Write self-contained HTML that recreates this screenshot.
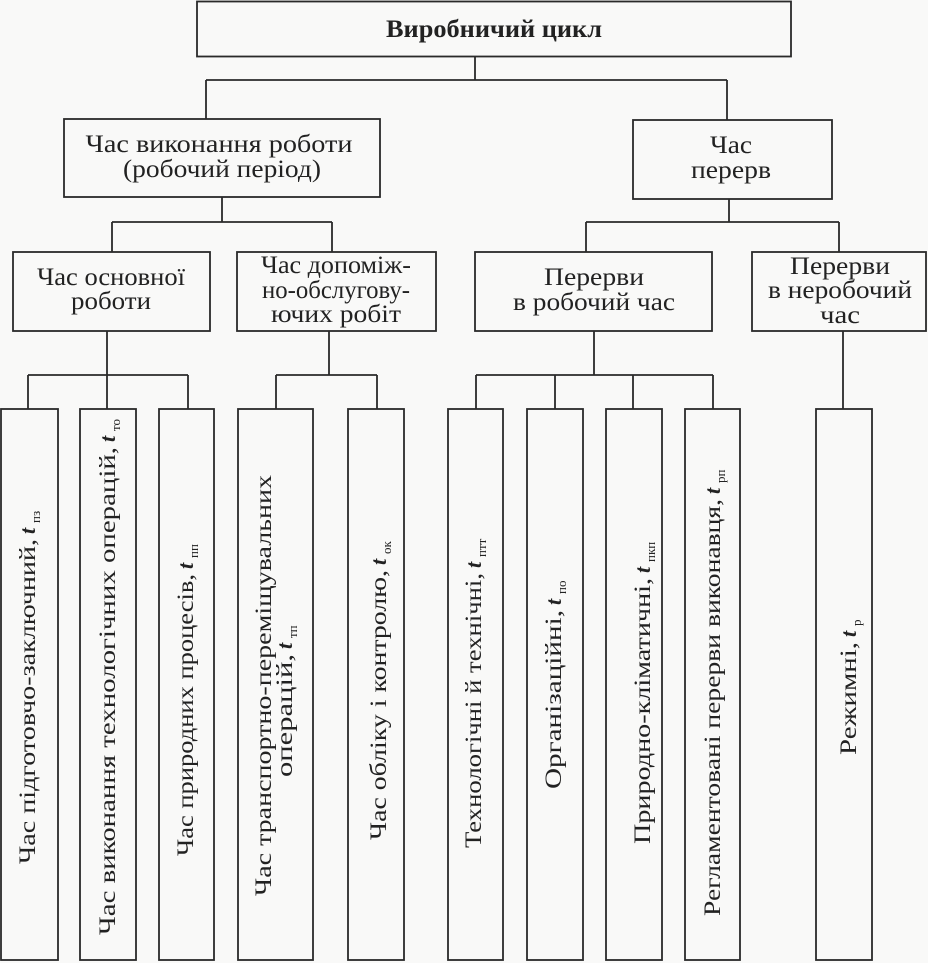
<!DOCTYPE html>
<html><head><meta charset="utf-8"><style>
html,body{margin:0;padding:0;background:#f9f9f8;}
svg{display:block}
text{font-family:"Liberation Serif","DejaVu Serif",serif;fill:#222;}
.h{font-size:25px;}
.v{font-size:23px;}
.t{font-size:22px;font-style:italic;font-weight:bold;}
.s{font-size:13px;}
</style></head><body>
<svg width="928" height="963" viewBox="0 0 928 963" xmlns="http://www.w3.org/2000/svg">
<g fill="none" stroke="#2a2a2a" stroke-width="1.8">
<rect x="197" y="1.5" width="594" height="55"/>
<rect x="64" y="119" width="316" height="78"/>
<rect x="633" y="120" width="199" height="79"/>
<rect x="13" y="252" width="197" height="79"/>
<rect x="237" y="252" width="199" height="79"/>
<rect x="475" y="252" width="237" height="79"/>
<rect x="752" y="252" width="174" height="79"/>
<rect x="1" y="409" width="57" height="551"/>
<rect x="80" y="409" width="56" height="551"/>
<rect x="159" y="409" width="55" height="551"/>
<rect x="238" y="409" width="75" height="551"/>
<rect x="348" y="409" width="56" height="551"/>
<rect x="448" y="409" width="55" height="551"/>
<rect x="527" y="409" width="56" height="551"/>
<rect x="606" y="409" width="56" height="551"/>
<rect x="685" y="409" width="55" height="551"/>
<rect x="816" y="409" width="56" height="551"/>
<path d="M475 57V80M206 80H727M206 80V119M727 80V120"/>
<path d="M222 197V222M112 222H332M112 222V252M332 222V252"/>
<path d="M729 199V222M586 222H839M586 222V252M839 222V252"/>
<path d="M107 331V375M28 375H188M28 375V409M107 375V409M188 375V409"/>
<path d="M329 331V375M276 375H377M276 375V409M377 375V409"/>
<path d="M594 331V375M476 375H713M476 375V409M555 375V409M633 375V409M713 375V409"/>
<path d="M843 331V409"/>
</g>
<text x="494" y="37" text-anchor="middle" style="font-size:25px;font-weight:bold" textLength="216" lengthAdjust="spacingAndGlyphs">Виробничий цикл</text>
<text class="h" x="219" y="152" text-anchor="middle" textLength="267" lengthAdjust="spacingAndGlyphs">Час виконання роботи</text>
<text class="h" x="222" y="177" text-anchor="middle" textLength="198" lengthAdjust="spacingAndGlyphs">(робочий період)</text>
<text class="h" x="731" y="153" text-anchor="middle" textLength="42" lengthAdjust="spacingAndGlyphs">Час</text>
<text class="h" x="731" y="178" text-anchor="middle" textLength="80" lengthAdjust="spacingAndGlyphs">перерв</text>
<text class="h" x="111" y="285" text-anchor="middle" textLength="148" lengthAdjust="spacingAndGlyphs">Час основної</text>
<text class="h" x="111" y="309" text-anchor="middle" textLength="80" lengthAdjust="spacingAndGlyphs">роботи</text>
<text class="h" x="336" y="273" text-anchor="middle" textLength="150" lengthAdjust="spacingAndGlyphs">Час допоміж-</text>
<text class="h" x="336" y="298" text-anchor="middle" textLength="148" lengthAdjust="spacingAndGlyphs">но-обслугову-</text>
<text class="h" x="336" y="322" text-anchor="middle" textLength="130" lengthAdjust="spacingAndGlyphs">ючих робіт</text>
<text class="h" x="594" y="285" text-anchor="middle" textLength="100" lengthAdjust="spacingAndGlyphs">Перерви</text>
<text class="h" x="594" y="310" text-anchor="middle" textLength="162" lengthAdjust="spacingAndGlyphs">в робочий час</text>
<text class="h" x="840" y="274" text-anchor="middle" textLength="100" lengthAdjust="spacingAndGlyphs">Перерви</text>
<text class="h" x="840" y="298" text-anchor="middle" textLength="144" lengthAdjust="spacingAndGlyphs">в неробочий</text>
<text class="h" x="840" y="323" text-anchor="middle" textLength="40" lengthAdjust="spacingAndGlyphs">час</text>
<g transform="translate(35,0) rotate(-90)"><text class="v" x="-864" y="0" textLength="325" lengthAdjust="spacingAndGlyphs">Час підготовчо-заключний,</text><text class="t" x="-534" y="0">t</text><text class="s" x="-523" y="5">пз</text></g>
<g transform="translate(115,0) rotate(-90)"><text class="v" x="-935" y="0" textLength="488" lengthAdjust="spacingAndGlyphs">Час виконання технологічних операцій,</text><text class="t" x="-442" y="0">t</text><text class="s" x="-431" y="5">то</text></g>
<g transform="translate(193,0) rotate(-90)"><text class="v" x="-856" y="0" textLength="282" lengthAdjust="spacingAndGlyphs">Час природних процесів,</text><text class="t" x="-569" y="0">t</text><text class="s" x="-558" y="5">пп</text></g>
<g transform="translate(271,0) rotate(-90)"><text class="v" x="-896" y="0" textLength="421" lengthAdjust="spacingAndGlyphs">Час транспортно-переміщувальних</text></g>
<g transform="translate(292,0) rotate(-90)"><text class="v" x="-777" y="0" textLength="123" lengthAdjust="spacingAndGlyphs">операцій,</text><text class="t" x="-649" y="0">t</text><text class="s" x="-638" y="5">тп</text></g>
<g transform="translate(386,0) rotate(-90)"><text class="v" x="-840" y="0" textLength="270" lengthAdjust="spacingAndGlyphs">Час обліку і контролю,</text><text class="t" x="-565" y="0">t</text><text class="s" x="-554" y="5">ок</text></g>
<g transform="translate(481,0) rotate(-90)"><text class="v" x="-848" y="0" textLength="275" lengthAdjust="spacingAndGlyphs">Технологічні й технічні,</text><text class="t" x="-568" y="0">t</text><text class="s" x="-557" y="5">птт</text></g>
<g transform="translate(561,0) rotate(-90)"><text class="v" x="-789" y="0" textLength="179" lengthAdjust="spacingAndGlyphs">Організаційні,</text><text class="t" x="-605" y="0">t</text><text class="s" x="-594" y="5">по</text></g>
<g transform="translate(650,0) rotate(-90)"><text class="v" x="-844" y="0" textLength="266" lengthAdjust="spacingAndGlyphs">Природно-кліматичні,</text><text class="t" x="-573" y="0">t</text><text class="s" x="-562" y="5">пкп</text></g>
<g transform="translate(720,0) rotate(-90)"><text class="v" x="-916" y="0" textLength="417" lengthAdjust="spacingAndGlyphs">Регламентовані перерви виконавця,</text><text class="t" x="-494" y="0">t</text><text class="s" x="-483" y="5">рп</text></g>
<g transform="translate(856,0) rotate(-90)"><text class="v" x="-755" y="0" textLength="113" lengthAdjust="spacingAndGlyphs">Режимні,</text><text class="t" x="-637" y="0">t</text><text class="s" x="-626" y="5">р</text></g>
</svg>
</body></html>
